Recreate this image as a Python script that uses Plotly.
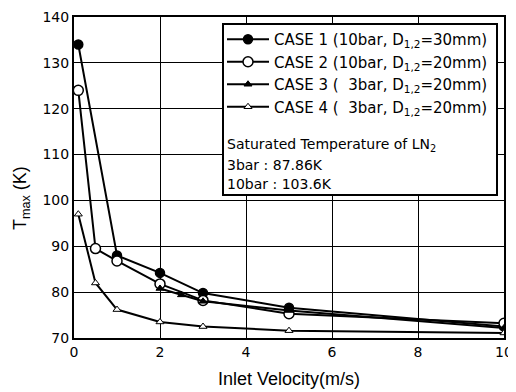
import plotly.graph_objects as go

# ---- data ----
case1_x = [0.1, 1, 2, 3, 5, 10]
case1_y = [134, 88, 84.2, 79.8, 76.6, 72.5]
case2_x = [0.1, 0.5, 1, 2, 3, 5, 10]
case2_y = [124, 89.5, 86.8, 81.8, 78.2, 75.3, 73.2]
case3_x = [2, 2.5, 3, 5, 10]
case3_y = [80.8, 79.4, 78.0, 76.0, 72.2]
case4_x = [0.1, 0.5, 1, 2, 3, 5, 10]
case4_y = [97, 82, 76.2, 73.5, 72.5, 71.6, 71.1]

names = [
    "CASE 1 (10bar, D<sub>1,2</sub>=30mm)",
    "CASE 2 (10bar, D<sub>1,2</sub>=20mm)",
    "CASE 3 (  3bar, D<sub>1,2</sub>=20mm)",
    "CASE 4 (  3bar, D<sub>1,2</sub>=20mm)",
]
notes = [
    "Saturated Temperature of LN<sub>2</sub>",
    "3bar : 87.86K",
    "10bar : 103.6K",
]
x_ticks = [0, 2, 4, 6, 8, 10]
y_ticks = [70, 80, 90, 100, 110, 120, 130, 140]

FONT = "DejaVu Sans"

fig = go.Figure()
series = [
    (case1_x, case1_y, dict(symbol="circle", size=9, color="black", line=dict(color="black", width=1.5))),
    (case2_x, case2_y, dict(symbol="circle", size=10, color="white", line=dict(color="black", width=1.5))),
    (case3_x, case3_y, dict(symbol="triangle-up", size=7, color="black", line=dict(color="black", width=1))),
    (case4_x, case4_y, dict(symbol="triangle-up", size=7, color="white", line=dict(color="black", width=1))),
]
for (xs, ys, mk), nm in zip(series, names):
    fig.add_trace(go.Scatter(x=xs, y=ys, mode="lines+markers", name=nm,
                             line=dict(color="black", width=2), marker=mk))

# page has an 8px body margin; figure is sized to fit the 516x392 window
OFF = 8
FW, FH = 516 - OFF, 392 - OFF
# plot area in page px: x 74..504, y 17..338
L, R, T, B = 74 - OFF, 504 - OFF, 17 - OFF, 338 - OFF
W, H = R - L, B - T
def px_x(p):
    return (p - OFF - L) / W
def px_y(p):
    return (B - (p - OFF)) / H

fig.add_shape(type="rect", xref="paper", yref="paper",
              x0=px_x(223), x1=px_x(497), y0=px_y(195), y1=px_y(24),
              fillcolor="white", line=dict(color="black", width=2), layer="above")

for txt, yy in zip(notes, [145, 165, 184]):
    fig.add_annotation(text=txt, xref="paper", yref="paper", x=px_x(225), y=px_y(yy),
                       xanchor="left", yanchor="middle", showarrow=False,
                       font=dict(family=FONT, size=14, color="black"))

# y axis title placed like the reference (slightly below centre)
fig.add_annotation(text="T<sub>max</sub> (K)", xref="paper", yref="paper",
                   x=px_x(22), y=px_y(198), xanchor="center", yanchor="middle",
                   textangle=-90, showarrow=False,
                   font=dict(family="Liberation Sans", size=18, color="black"))

fig.update_layout(
    width=FW, height=FH,
    margin=dict(l=L, r=FW - R, t=T, b=FH - B, autoexpand=False),
    paper_bgcolor="white", plot_bgcolor="white",
    font=dict(family=FONT, size=14, color="black"),
    showlegend=True,
    legend=dict(x=px_x(222), y=px_y(23), xanchor="left", yanchor="top",
                bgcolor="rgba(0,0,0,0)", borderwidth=0,
                font=dict(family=FONT, size=15, color="black"),
                tracegroupgap=0, itemwidth=42),
    xaxis=dict(range=[0, 10], tickvals=x_ticks, showgrid=True, gridcolor="black", gridwidth=1.3,
               zeroline=False, showline=True, linecolor="black", linewidth=2, mirror=True,
               ticks="", automargin=False, tickfont=dict(family=FONT, size=14, color="black"),
               title=dict(text="Inlet Velocity(m/s)", font=dict(family="Liberation Sans", size=18, color="black"), standoff=14)),
    yaxis=dict(range=[70, 140], tickvals=y_ticks, showgrid=True, gridcolor="black", gridwidth=1.3,
               zeroline=False, showline=True, linecolor="black", linewidth=2, mirror=True,
               ticks="", automargin=False, tickfont=dict(family=FONT, size=14, color="black")),
)

fig.write_html("out.html")
